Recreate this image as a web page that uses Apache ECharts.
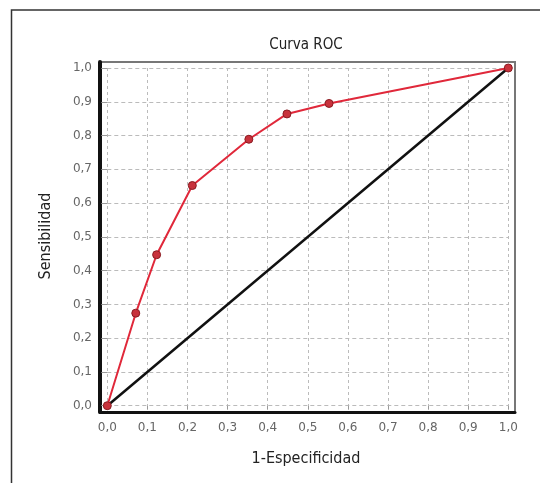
<!DOCTYPE html>
<html>
<head>
<meta charset="utf-8">
<script src="https://cdn.jsdelivr.net/npm/echarts@6/dist/echarts.min.js"></script>
<style>html,body{margin:0;padding:0;background:#fff}#c{width:540px;height:483px}</style>
</head>
<body>
<div id="c"></div>
<script>
var rocX = [0, 0.071, 0.123, 0.212, 0.353, 0.448, 0.553, 1.0];
var rocY = [0, 0.274, 0.447, 0.652, 0.789, 0.864, 0.895, 1.0];
var diagX = [0, 1];
var diagY = [0, 1];
var tickLabels = ['0,0','0,1','0,2','0,3','0,4','0,5','0,6','0,7','0,8','0,9','1,0'];
var titleText = 'Curva ROC';
var xName = '1-Especificidad';
var yName = 'Sensibilidad';

var narrow = "'Liberation Sans Narrow', 'DejaVu Sans Condensed', sans-serif";
function fmt(v){ var i = Math.round(v*10); return tickLabels[i] !== undefined ? tickLabels[i] : ''; }
function pairs(xs, ys){ return xs.map(function(x,i){ return [x, ys[i]]; }); }

var chart = echarts.init(document.getElementById('c'), null, {renderer:'canvas'});
chart.setOption({
  animation: false,
  backgroundColor: '#fff',
  graphic: [
    {type:'rect', shape:{x: 11.5, y: 10, width: 600, height: 600}, style:{fill:'none', stroke:'#333', lineWidth:1.5}, z: -10},
    {type:'text', x: 306, y: 45, style:{text: titleText, font: '15px ' + narrow, fill:'#222', textAlign:'center', textVerticalAlign:'middle'}},
    {type:'text', x: 306, y: 459, style:{text: xName, font: '16px ' + narrow, fill:'#222', textAlign:'center', textVerticalAlign:'middle'}},
    {type:'text', x: 46, y: 236, rotation: Math.PI/2, style:{text: yName, font: '16px ' + narrow, fill:'#222', textAlign:'center', textVerticalAlign:'middle'}}
  ],
  grid: [
    {left: 100, top: 62, width: 415, height: 350, show: true, borderColor: '#777', borderWidth: 2, backgroundColor: 'transparent'},
    {left: 107.3, top: 68, width: 401, height: 337.7}
  ],
  xAxis: [
    {type:'value', gridIndex:0, min:-0.018, max:1.017, axisLine:{show:true, onZero:false, lineStyle:{color:'#111', width:3}}, axisTick:{show:false}, axisLabel:{show:false}, splitLine:{show:false}},
    {type:'value', gridIndex:1, min:0, max:1, interval:0.1, offset: 6,
      axisLine:{show:false}, axisTick:{show:true, length:4, lineStyle:{color:'#999'}},
      axisLabel:{formatter: fmt, color:'#666', fontSize:12, fontFamily:'DejaVu Sans', margin:10},
      splitLine:{show:true, lineStyle:{color:'#bbb', type:[3,3], width:1}}}
  ],
  yAxis: [
    {type:'value', gridIndex:0, min:-0.019, max:1.018, axisLine:{show:true, onZero:false, lineStyle:{color:'#111', width:4}}, axisTick:{show:false}, axisLabel:{show:false}, splitLine:{show:false}},
    {type:'value', gridIndex:1, min:0, max:1, interval:0.1, offset: 7.3,
      axisLine:{show:false}, axisTick:{show:true, length:6, lineStyle:{color:'#999'}},
      axisLabel:{formatter: fmt, color:'#666', fontSize:12, fontFamily:'DejaVu Sans', margin:8},
      splitLine:{show:true, lineStyle:{color:'#bbb', type:[4,3], width:1}}}
  ],
  series: [
    {type:'line', xAxisIndex:1, yAxisIndex:1, data: pairs(diagX, diagY), symbol:'none', lineStyle:{color:'#111', width:2.5}, z:3},
    {type:'line', xAxisIndex:1, yAxisIndex:1, data: pairs(rocX, rocY), symbol:'circle', symbolSize:8,
      lineStyle:{color:'#e0283a', width:2}, itemStyle:{color:'#c8323c', borderColor:'#8a1c22', borderWidth:1}, z:4}
  ]
});
</script>
</body>
</html>
